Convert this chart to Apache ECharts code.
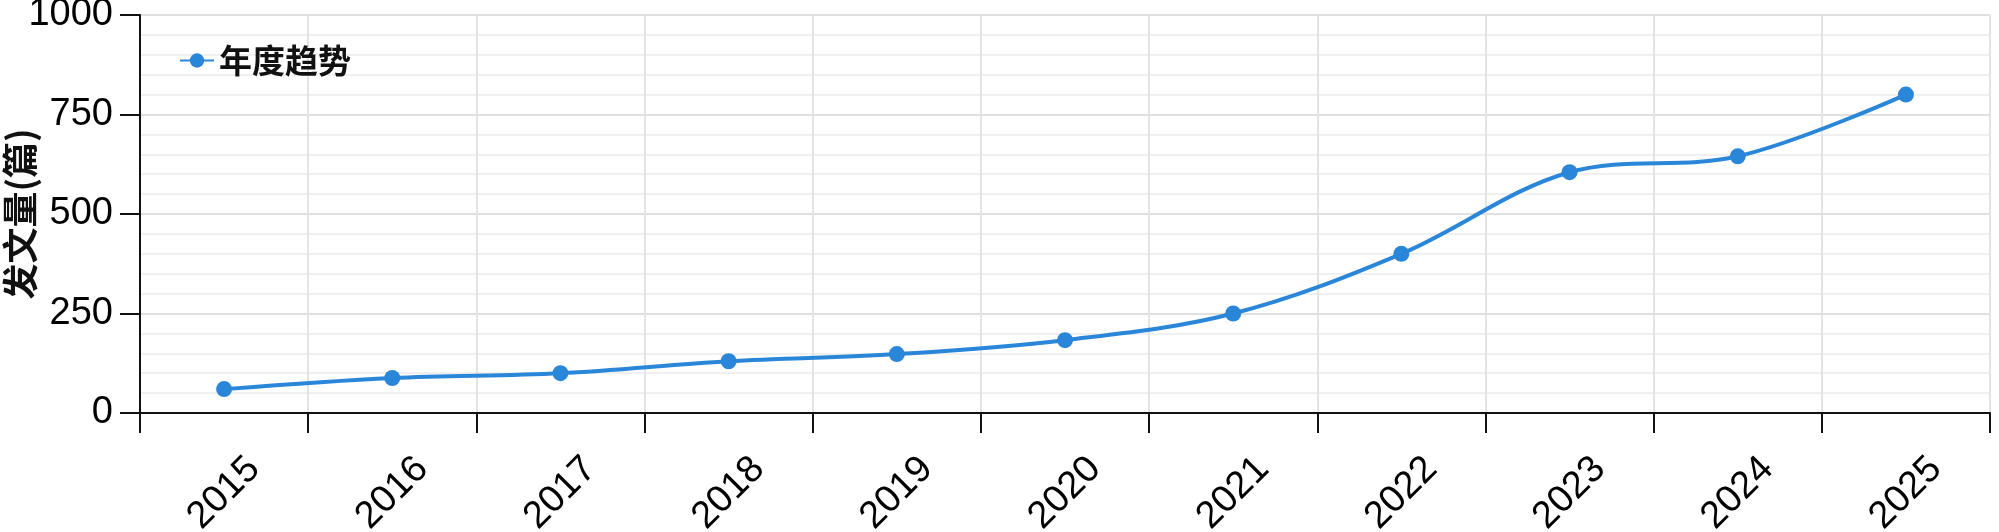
<!DOCTYPE html>
<html>
<head>
<meta charset="utf-8">
<script src="https://cdn.jsdelivr.net/npm/echarts@6/dist/echarts.min.js"></script>
<style>
  html, body { margin: 0; padding: 0; background: #fff; }
  #main { width: 1999px; height: 532px; }
</style>
</head>
<body>
<div id="main"></div>
<script>
  // 年份与发文量
  const years = ['2015', '2016', '2017', '2018', '2019', '2020', '2021', '2022', '2023', '2024', '2025'];
  const counts = [60, 88, 100, 130, 148, 183, 250, 400, 605, 645, 800];
  const yTicks = [0, 250, 500, 750, 1000];

  const myChart = echarts.init(document.getElementById('main'));
  myChart.setOption({
    animation: false,
    textStyle: { fontFamily: 'Liberation Sans, Arial, "Noto Sans CJK SC", sans-serif' },
    grid: { left: 140, right: 9, top: 15, bottom: 119, outerBoundsMode: 'none' },
    legend: {
      left: 174,
      top: 39,
      itemWidth: 34,
      itemHeight: 18,
      textStyle: { fontSize: 33, fontWeight: 'bold', color: '#111', fontFamily: '"Noto Sans CJK SC", sans-serif' },
      data: ['年度趋势']
    },
    xAxis: {
      type: 'category',
      data: years,
      boundaryGap: true,
      axisLine: { lineStyle: { color: '#111', width: 2 } },
      axisTick: { show: true, length: 20, lineStyle: { color: '#111', width: 2 } },
      axisLabel: {
        rotate: 45, fontSize: 38, color: '#000', margin: 80,
        align: 'center', verticalAlign: 'middle'
      },
      splitLine: { show: true, lineStyle: { color: '#e4e4e4', width: 2 } }
    },
    yAxis: {
      type: 'value',
      min: yTicks[0],
      max: yTicks[yTicks.length - 1],
      interval: 250,
      name: '发文量(篇)',
      nameLocation: 'middle',
      nameRotate: 90,
      nameGap: 102,
      nameMoveOverlap: false,
      nameTextStyle: {
        fontSize: 36, fontWeight: 'bold', color: '#111',
        fontFamily: '"Noto Sans CJK SC", sans-serif'
      },
      axisLine: { show: true, lineStyle: { color: '#111', width: 2 } },
      axisTick: { show: true, length: 20, lineStyle: { color: '#111', width: 2 } },
      axisLabel: { fontSize: 38, color: '#000', margin: 27, formatter: (v) => String(v) },
      splitLine: { show: true, lineStyle: { color: '#e0e0e0', width: 2 } },
      minorTick: { show: false, splitNumber: 5 },
      minorSplitLine: { show: true, lineStyle: { color: '#f0f0f0', width: 2 } }
    },
    series: [
      {
        name: '年度趋势',
        type: 'line',
        smooth: 0.35,
        data: counts,
        symbol: 'circle',
        symbolSize: 16,
        lineStyle: { color: '#2a86d8', width: 4 },
        itemStyle: { color: '#2a86d8' }
      }
    ]
  });
</script>
</body>
</html>
